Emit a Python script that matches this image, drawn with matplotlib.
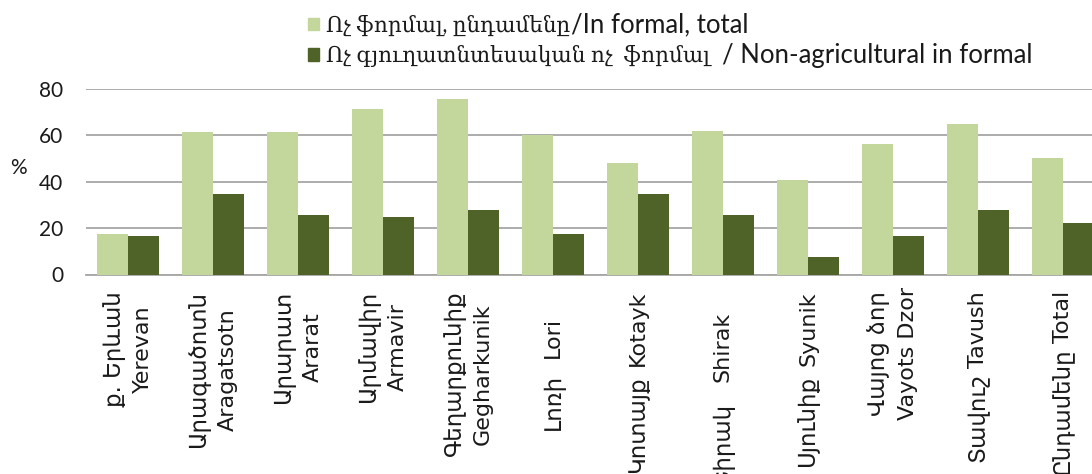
import re
import numpy as np
import matplotlib
matplotlib.use("Agg")
import matplotlib.pyplot as plt
from matplotlib.patches import Patch
from matplotlib.text import Annotation

plt.rcParams['font.family'] = ['Lato', 'DejaVu Serif', 'DejaVu Sans']

# "\n" -> two columns (Armenian / English), spaces -> one line with a gap
regions = [
    "ք. Երևան\nYerevan",
    "Արագածոտն\nAragatsotn",
    "Արարատ\nArarat",
    "Արմավիր\nArmavir",
    "Գեղարքունիք\nGegharkunik",
    "Լոռի   Lori     ",
    "Կոտայք  Kotayk",
    "Շիրակ    Shirak    ",
    "Սյունիք  Syunik",
    "Վայոց ձոր\nVayots Dzor",
    "Տավուշ Tavush",
    "Ընդամենը Total",
]
informal_total = [17.4, 61.4, 61.4, 71.4, 75.6, 60.3, 48.0, 62.1, 40.7, 56.3, 65.1, 50.1]
nonagri_informal = [16.8, 34.6, 25.6, 24.7, 27.7, 17.4, 34.6, 25.6, 7.5, 16.8, 27.7, 22.1]

legend_arm = ["Ոչ ֆորմալ, ընդամենը", "Ոչ գյուղատնտեսական ոչ  ֆորմալ  "]
legend_eng = ["/In formal, total", "/ Non-agricultural in formal"]

light = "#C3D69B"
dark = "#4F6228"
grid_col = "#A6A6A6"
txt_col = "#1a1a1a"

W, H = 1092, 474
PT = 0.72  # points per pixel at dpi 100
fig = plt.figure(figsize=(W / 100, H / 100), dpi=100)
# plot area runs slightly past the right edge, like the original
ax = fig.add_axes([85.5 / W, 1 - 274.5 / H, 1020 / W, 185.5 / H])

x = np.arange(len(regions))
w = 0.365
ax.bar(x - w / 2, informal_total, w, color=light, zorder=3)
ax.bar(x + w / 2, nonagri_informal, w, color=dark, zorder=3)

ax.set_xlim(-0.5, len(regions) - 0.5)
ax.set_ylim(0, 80)
ax.set_yticks([0, 20, 40, 60, 80])
ax.yaxis.grid(True, color=grid_col, linewidth=1.3, zorder=0)
for s in ["left", "right", "top"]:
    ax.spines[s].set_visible(False)
ax.spines["bottom"].set_color(grid_col)
ax.spines["bottom"].set_linewidth(1.3)
ax.tick_params(axis="y", length=0, pad=16, labelsize=15, labelcolor=txt_col)
ax.set_xticks(x)
ax.set_xticklabels([])
ax.tick_params(axis="x", length=0)

fig.text(18 / W, 1 - 168 / H, "%", fontsize=15, ha="center", va="center", color=txt_col)

handles = [Patch(color=light), Patch(color=dark)]
leg = fig.legend(handles, legend_arm, loc="upper left",
                 bbox_to_anchor=(299 / W, 1 - 6 / H), frameon=False, fontsize=15.5,
                 handlelength=0.55, handleheight=0.55, handletextpad=0.3,
                 labelspacing=0.42, borderaxespad=0, labelcolor=txt_col)
for t, eng in zip(leg.get_texts(), legend_eng):
    an = Annotation(eng, xy=(1, 0.5), xycoords=t, xytext=(1, 0),
                    textcoords="offset points", ha="left", va="center",
                    fontsize=18.5, color=txt_col, zorder=10, family="Lato")
    fig.add_artist(an)

# category labels: Armenian part set bigger than the English part
eng_fs = 16
arm_fs = 16.5
space_px = 5.2
top_px = 16.5
tr = ax.get_xaxis_transform()


def cat_text(s, xi, fs):
    return ax.annotate(s, xy=(xi, 0), xycoords=tr, xytext=(0, 0),
                       textcoords="offset points", rotation=90, ha="center",
                       va="top", fontsize=fs, color=txt_col, family="DejaVu Sans",
                       annotation_clip=False)


parts = []
for i, lab in enumerate(regions):
    if "\n" in lab:
        arm, eng = lab.split("\n")
        gap, tail = "", ""
        kind = "two"
    else:
        arm, gap, eng, tail = re.match(r"^(\S.*?)(\s+)(\S+)(\s*)$", lab).groups()
        kind = "one"
    parts.append((kind, cat_text(arm, x[i], arm_fs), cat_text(eng, x[i], eng_fs),
                  len(gap), len(tail)))

# measure the rotated texts, then stack them below the axis
fig.canvas.draw()
r = fig.canvas.get_renderer()
for kind, ta, te, ngap, ntail in parts:
    h_arm = ta.get_window_extent(r).height
    h_eng = te.get_window_extent(r).height
    if kind == "two":
        ta.xyann = (-14 * PT, -top_px * PT)
        te.xyann = (15 * PT, -(top_px + (h_arm - h_eng) / 2) * PT)
    else:
        y0 = top_px + ntail * space_px
        te.xyann = (0, -y0 * PT)
        ta.xyann = (0, -(y0 + h_eng + ngap * space_px) * PT)

fig.canvas.draw()
fig.savefig("out.png", dpi=100)
